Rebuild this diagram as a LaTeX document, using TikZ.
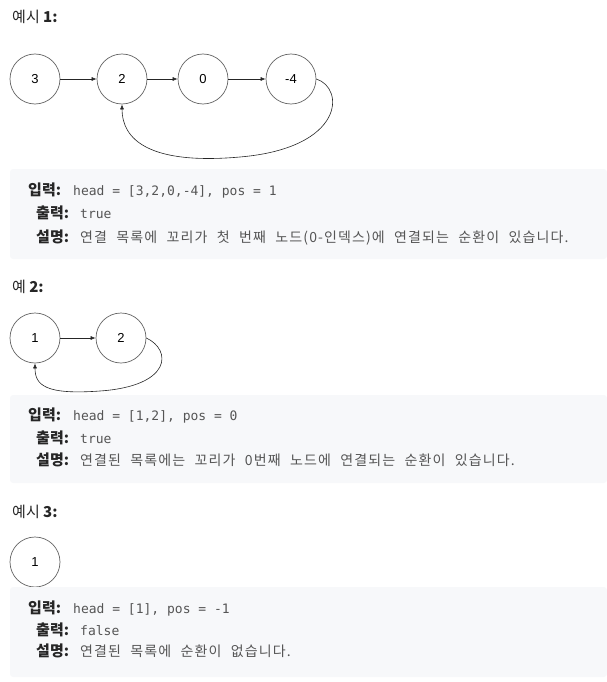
\documentclass[tikz,border=0pt]{standalone}
\usepackage{fontspec}
\setmainfont{Liberation Sans}
\setmonofont{DejaVu Sans Mono}
\newfontfamily\cjk{Noto Sans CJK KR}
\newfontfamily\cjkwide[LetterSpace=8, WordSpace=2.2]{Noto Sans CJK KR}
\usetikzlibrary{arrows.meta}
\usetikzlibrary{positioning}
\tikzset{>={Latex[length=5pt,width=4pt]}}
\definecolor{boxbg}{RGB}{247,248,250}
\definecolor{txt}{RGB}{38,38,38}
\definecolor{codetxt}{RGB}{85,85,85}
\definecolor{ring}{RGB}{100,100,100}
\tikzset{
    listnode/.style={circle, draw=ring, line width=0.7pt, minimum size=50pt, inner sep=0pt, font=\fontsize{13}{13}\selectfont},
    link/.style={->, line width=0.6pt, draw=black!85},
    heading/.style={anchor=base west, inner sep=0pt, text=txt, font=\cjk\fontsize{15}{15}\selectfont},
    fieldname/.style={anchor=base west, inner sep=0pt, text=txt, font=\cjk\bfseries\fontsize{15}{15}\selectfont},
    fieldval/.style={anchor=base west, inner sep=0pt, text=codetxt, font=\ttfamily\fontsize{13}{13}\selectfont},
    fieldtext/.style={anchor=base west, inner sep=0pt, text=codetxt, font=\cjkwide\fontsize{14}{14}\selectfont},
    panel/.style={fill=boxbg, rounded corners=3pt},
}

\begin{document}
\begin{tikzpicture}[x=1pt, y=-1pt] % linked list cycle examples
	\useasboundingbox (0,0) rectangle (607,682);
	% example 1
	\node[heading] (h1) at (12,23) {예시 {\bfseries 1:}};
	\node[listnode] (a1) at (35,79) {3};
	\node[listnode] (a2) at (122,79) {2};
	\node[listnode] (a3) at (203,79) {0};
	\node[listnode] (a4) at (291,79) {-4};
	\draw[link] (a1) -- (a2);
	\draw[link] (a2) -- (a3);
	\draw[link] (a3) -- (a4);
	\draw[link] (a4.east) .. controls (345,88) and (345,148) .. (240,157) .. controls (150,165) and (122,140) .. (a2.south);
	\fill[panel] (10,169) rectangle (607,259);
	\node[fieldname] (in1) at (28,195) {입력:};
	\node[fieldval] (inv1) at (73,195) {head = [3,2,0,-4], pos = 1};
	\node[fieldname] (out1) at (36,218) {출력:};
	\node[fieldval] (outv1) at (80,218) {true};
	\node[fieldname] (ex1) at (36,242) {설명:};
	\node[fieldtext] (exv1) at (80,242) {연결 목록에 꼬리가 첫 번째 노드(0-인덱스)에 연결되는 순환이 있습니다.};
	% example 2
	\node[heading] (h2) at (12,292) {예 {\bfseries 2:}};
	\node[listnode] (b1) at (35,338) {1};
	\node[listnode] (b2) at (121,338) {2};
	\draw[link] (b1) -- (b2);
	\draw[link] (b2.east) .. controls (172,350) and (172,386) .. (100,391) .. controls (45,395) and (35,385) .. (b1.south);
	\fill[panel] (10,395) rectangle (607,483);
	\node[fieldname] (in2) at (28,420) {입력:};
	\node[fieldval] (inv2) at (73,420) {head = [1,2], pos = 0};
	\node[fieldname] (out2) at (36,443) {출력:};
	\node[fieldval] (outv2) at (80,443) {true};
	\node[fieldname] (ex2) at (36,465) {설명:};
	\node[fieldtext] (exv2) at (80,465) {연결된 목록에는 꼬리가 0번째 노드에 연결되는 순환이 있습니다.};
	% example 3
	\node[heading] (h3) at (12,517) {예시 {\bfseries 3:}};
	\node[listnode] (c1) at (35,562) {1};
	\fill[panel] (10,587) rectangle (607,677);
	\node[fieldname] (in3) at (28,613) {입력:};
	\node[fieldval] (inv3) at (73,613) {head = [1], pos = -1};
	\node[fieldname] (out3) at (36,635) {출력:};
	\node[fieldval] (outv3) at (80,635) {false};
	\node[fieldname] (ex3) at (36,656) {설명:};
	\node[fieldtext] (exv3) at (80,656) {연결된 목록에 순환이 없습니다.};
\end{tikzpicture}
\end{document}
